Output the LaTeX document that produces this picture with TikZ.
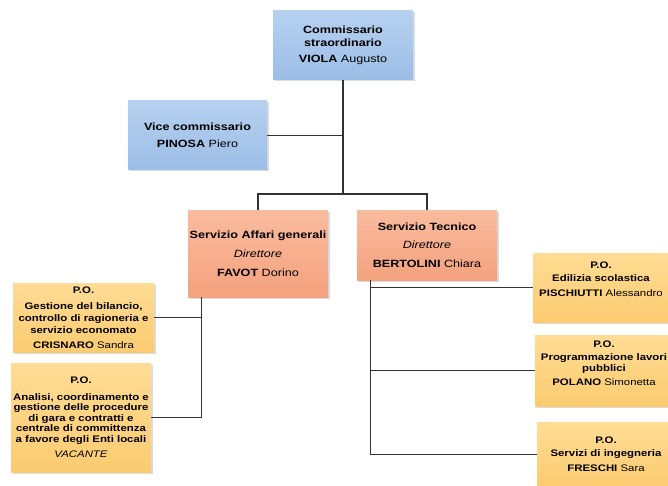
\documentclass[tikz,border=0pt]{standalone}
\usepackage{fontspec}
\setmainfont{Liberation Sans}[FakeStretch=1.2]
\usetikzlibrary{shadows,calc}
\definecolor{blueT}{HTML}{B6D1F0}
\definecolor{blueB}{HTML}{9CBDE6}
\definecolor{orT}{HTML}{F9BC9E}
\definecolor{orB}{HTML}{F4A17E}
\definecolor{yeT}{HTML}{FFDC95}
\definecolor{yeB}{HTML}{FBCB70}
\definecolor{ln}{HTML}{333333}
\begin{document}
\begin{tikzpicture}[x=1pt,y=-1pt,
  box/.style={rectangle, inner sep=0pt, align=center, text=black,
    drop shadow={shadow xshift=1.5pt, shadow yshift=-1.5pt, opacity=0.2, fill=black!70}},
  bluebox/.style={box, top color=blueT, bottom color=blueB, font=\fontsize{10.5}{13}\selectfont},
  orbox/.style={box, top color=orT, bottom color=orB, font=\fontsize{10.5}{13}\selectfont},
  yebox/.style={box, top color=yeT, bottom color=yeB, font=\fontsize{9.5}{12}\selectfont},
  yetext/.style={inner sep=0pt, align=center, text=black, font=\fontsize{9.5}{12}\selectfont},
  conn/.style={draw=ln, line width=1.2pt}
]
\clip (0,0) rectangle (668,486);
\fill[white] (0,0) rectangle (668,486);

% boxes
\node[bluebox, minimum width=140pt, minimum height=69pt] (top) at (343,45.5)
  {\textbf{Commissario}\\\textbf{straordinario}\\[3pt]\textbf{VIOLA} Augusto};
\node[bluebox, minimum width=139pt, minimum height=69pt] (vice) at (197.5,135.5)
  {\textbf{Vice commissario}\\[4pt]\textbf{PINOSA} Piero};
\node[orbox, minimum width=140pt, minimum height=87pt] (aff) at (258,253.5)
  {\textbf{Servizio Affari generali}\\[6pt]\textit{Direttore}\\[6pt]\textbf{FAVOT} Dorino};
\node[orbox, minimum width=140pt, minimum height=70pt] (tec) at (427,245)
  {\textbf{Servizio Tecnico}\\[5pt]\textit{Direttore}\\[6pt]\textbf{BERTOLINI} Chiara};
\node[yebox, minimum width=141pt, minimum height=69pt] (l1) at (83.5,317.5)
  {\textbf{P.O.}\\[4pt]\textbf{Gestione del bilancio,}\\\textbf{controllo di ragioneria e}\\\textbf{servizio economato}\\[3pt]\textbf{CRISNARO} Sandra};
\node[yebox, minimum width=140pt, minimum height=109pt, font=\fontsize{9.5}{10.5}\selectfont] (l2) at (81,417.5)
  {\textbf{P.O.}\\[6pt]\textbf{Analisi, coordinamento e}\\\textbf{gestione delle procedure}\\\textbf{di gara e contratti e}\\\textbf{centrale di committenza}\\\textbf{a favore degli Enti locali}\\[5pt]\textit{VACANTE}};
\node[yebox, minimum width=136pt, minimum height=69pt] (r1) at (601,287.5) {};
\node[yetext] (r1t) at (601,279)
  {\textbf{P.O.}\\[1pt]\textbf{Edilizia scolastica}\\[3pt]\textbf{PISCHIUTTI} Alessandro};
\node[yebox, minimum width=138pt, minimum height=71pt] (r2) at (604,370.5) {};
\node[yetext, font=\fontsize{9.5}{11}\selectfont] (r2t) at (604,363.5)
  {\textbf{P.O.}\\[2pt]\textbf{Programmazione lavori}\\\textbf{pubblici}\\[3pt]\textbf{POLANO} Simonetta};
\node[yebox, minimum width=138pt, minimum height=65pt] (r3) at (606,454.5)
  {\textbf{P.O.}\\[1pt]\textbf{Servizi di ingegneria}\\[3pt]\textbf{FRESCHI} Sara};

% connectors
\coordinate (j) at (343,194);
\coordinate (sa) at ($(aff.south west)+(14,0)$);
\coordinate (st) at ($(tec.south west)+(14,0)$);
\begin{scope}[on background layer/.style={}]
\draw[conn] (top.south) -- (j);
\draw[conn] (vice.east) -- (vice.east -| top.south);
\draw[conn] (aff.north) |- (j) -| (tec.north);
\draw[conn] (sa) -- (sa |- l2.east) -- (l2.east);
\draw[conn] (l1.east) -- (l1.east -| sa);
\draw[conn] (st) -- (st |- r3.west) -- (r3.west);
\draw[conn] (r1.west) -- (r1.west -| st);
\draw[conn] (r2.west) -- (r2.west -| st);
\end{scope}
\end{tikzpicture}
\end{document}
